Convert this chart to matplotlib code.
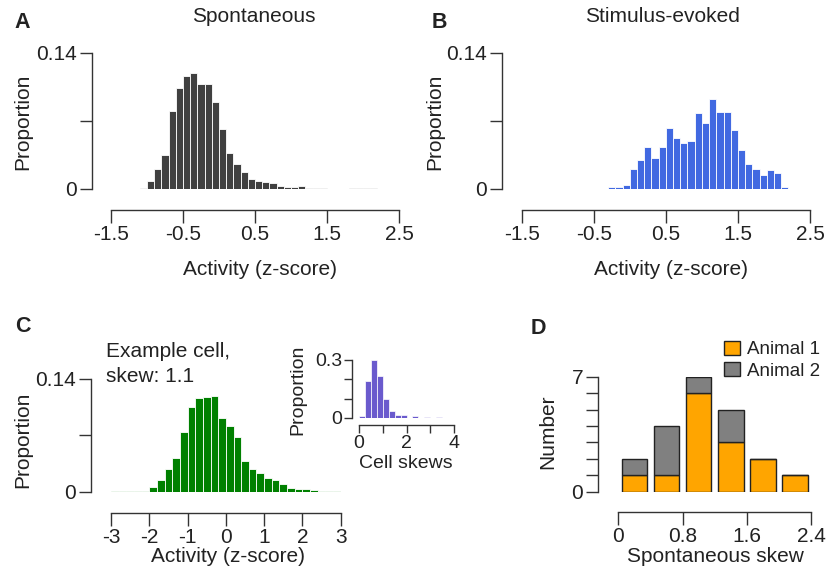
import numpy as np
import matplotlib
matplotlib.use("Agg")
import matplotlib.pyplot as plt
from matplotlib.patches import Patch

plt.rcParams['font.family'] = ['Liberation Sans', 'DejaVu Sans']

W, H = 831, 577

# ---------------- data ----------------
# Panel A: spontaneous activity histogram (bin width 0.1, -1.5 .. 2.5)
a_centers = np.round(np.arange(-1.45, 2.5, 0.1), 2)
a_values = [0.0003, 0.0003, 0.0003, 0.0003, 0.0014,
            0.008, 0.021, 0.0355, 0.080, 0.104,
            0.116, 0.1197, 0.108, 0.108, 0.0897,
            0.062, 0.0372, 0.026, 0.0172, 0.0103,
            0.0081, 0.0068, 0.0064, 0.0034, 0.0025,
            0.0024, 0.0027, 0.001, 0.001, 0.001,
            0.0004, 0.0004, 0.0004, 0.0006, 0.0006,
            0.0006, 0.0006, 0.0004, 0.0003, 0.0003]

# Panel B: stimulus-evoked activity histogram
b_centers = a_centers
b_values = [0.0002] * 12 + [
            0.0017, 0.0017, 0.0041, 0.0203, 0.030,
            0.0428, 0.0314, 0.0428, 0.0628, 0.0524,
            0.0476, 0.0497, 0.078, 0.0676, 0.0924,
            0.0793, 0.0793, 0.0607, 0.0397, 0.0255,
            0.0205, 0.014, 0.0193, 0.016, 0.002,
            0.0002, 0.0002, 0.0002]

# Panel C: example cell (bin width 0.2, -3 .. 3)
c_centers = np.round(np.arange(-2.9, 3.0, 0.2), 2)
c_values = [0.0003, 0.0012, 0.0012, 0.0012, 0.0012,
            0.0058, 0.014, 0.0276, 0.0421, 0.0746,
            0.1053, 0.1168, 0.1176, 0.1188, 0.0914,
            0.081, 0.0675, 0.0378, 0.0286, 0.0228,
            0.0164, 0.014, 0.0091, 0.0041, 0.0035,
            0.003, 0.0017, 0.0013, 0.0013, 0.0013]

# Panel C inset: cell skews (bin width 0.25, 0 .. 4)
inset_centers = np.arange(0.125, 4.0, 0.25)
inset_values = [0.012, 0.19, 0.30, 0.216, 0.10, 0.038, 0.017, 0.014,
                0.0, 0.008, 0.0, 0.006, 0.0, 0.006, 0.0, 0.0]

# Panel D: spontaneous skew counts per animal
d_centers = [0.2, 0.6, 1.0, 1.4, 1.8, 2.2]
d_animal1 = [1, 1, 6, 3, 2, 1]
d_animal2 = [1, 3, 1, 2, 0, 0]

# ---------------- style ----------------
SPINE = '#333333'
TXT = '#222222'
FS = 15


def px_axes(fig, left, top, right, bottom):
    return fig.add_axes([left / W, 1 - bottom / H, (right - left) / W, (bottom - top) / H])


def style(ax, xb, yb, out_px=21, ticklen=9, fs=FS):
    for s in ['top', 'right']:
        ax.spines[s].set_visible(False)
    ax.spines['left'].set_bounds(*yb)
    ax.spines['bottom'].set_bounds(*xb)
    ax.spines['bottom'].set_position(('outward', out_px * 72 / 100))
    for s in ['left', 'bottom']:
        ax.spines[s].set_color(SPINE)
        ax.spines[s].set_linewidth(1.0)
    ax.tick_params(axis='both', direction='out', length=ticklen, width=1.0,
                   color=SPINE, labelsize=fs, labelcolor=TXT, pad=2)


def ftext(x, y, s, **kw):
    kw.setdefault('color', TXT)
    kw.setdefault('fontsize', FS)
    fig.text(x / W, 1 - y / H, s, **kw)


fig = plt.figure(figsize=(W / 100, H / 100), dpi=100)

# ---------- Panel A ----------
axA = px_axes(fig, 92, 53, 399, 189)
axA.bar(a_centers, a_values, width=0.1, color='#404040', edgecolor='white', linewidth=0.6)
axA.set_xlim(-1.5 - 19 / 72, 2.5)
axA.set_ylim(0, 0.14)
style(axA, (-1.5, 2.5), (0, 0.14))
axA.set_xticks([-1.5, -0.5, 0.5, 1.5, 2.5])
axA.set_xticklabels(['-1.5', '-0.5', '0.5', '1.5', '2.5'])
axA.set_yticks([0, 0.07, 0.14])
axA.set_yticklabels(['0', '', '0.14'])
ftext(254, 16, 'Spontaneous', ha='center', va='center')
ftext(14, 22, 'A', ha='left', va='center', fontweight='bold', fontsize=15.5)
ftext(23, 122, 'Proportion', ha='center', va='center', rotation=90)
ftext(260, 269, 'Activity (z-score)', ha='center', va='center')

# ---------- Panel B ----------
axB = px_axes(fig, 502, 53, 810, 189)
axB.bar(b_centers, b_values, width=0.1, color='#4169E1', edgecolor='white', linewidth=0.6)
axB.set_xlim(-1.5 - 19.7 / 72, 2.5)
axB.set_ylim(0, 0.14)
style(axB, (-1.5, 2.5), (0, 0.14))
axB.set_xticks([-1.5, -0.5, 0.5, 1.5, 2.5])
axB.set_xticklabels(['-1.5', '-0.5', '0.5', '1.5', '2.5'])
axB.set_yticks([0, 0.07, 0.14])
axB.set_yticklabels(['0', '', '0.14'])
ftext(662, 16, 'Stimulus-evoked', ha='center', va='center')
ftext(432, 22, 'B', ha='left', va='center', fontweight='bold', fontsize=15.5)
ftext(435, 122, 'Proportion', ha='center', va='center', rotation=90)
ftext(671, 269, 'Activity (z-score)', ha='center', va='center')

# ---------- Panel C ----------
axC = px_axes(fig, 90.7, 379, 340.7, 491.7)
axC.bar(c_centers, c_values, width=0.2, color='#008000', edgecolor='white', linewidth=0.6)
axC.set_xlim(-3 - 20.3 / 38.3, 3)
axC.set_ylim(0, 0.14)
style(axC, (-3, 3), (0, 0.14))
axC.set_xticks([-3, -2, -1, 0, 1, 2, 3])
axC.set_xticklabels(['-3', '-2', '-1', '0', '1', '2', '3'])
axC.set_yticks([0, 0.07, 0.14])
axC.set_yticklabels(['0', '', '0.14'])
ftext(15, 326, 'C', ha='left', va='center', fontweight='bold', fontsize=15.5)
ftext(23, 440, 'Proportion', ha='center', va='center', rotation=90)
ftext(228, 557, 'Activity (z-score)', ha='center', va='center')
ftext(106, 357, 'Example cell,', ha='left', va='baseline')
ftext(106, 382, 'skew: 1.1', ha='left', va='baseline')

# inset
axI = px_axes(fig, 351.7, 360, 454.3, 418)
axI.bar(inset_centers, inset_values, width=0.25, color='#6A5ACD', edgecolor='white', linewidth=0.5)
axI.set_xlim(-7 / 23.9, 4)
axI.set_ylim(0, 0.3)
style(axI, (0, 4), (0, 0.3), out_px=7, ticklen=6, fs=14)
axI.set_xticks([0, 1, 2, 3, 4])
axI.set_xticklabels(['0', '', '2', '', '4'])
axI.set_yticks([0, 0.1, 0.2, 0.3])
axI.set_yticklabels(['0', '', '', '0.3'])
axI.tick_params(axis='both', pad=1)
ftext(298, 390, 'Proportion', ha='center', va='center', rotation=90, fontsize=14)
ftext(406, 463, 'Cell skews', ha='center', va='center', fontsize=14)

# ---------- Panel D ----------
axD = px_axes(fig, 598.3, 376.7, 811, 491.7)
axD.bar(d_centers, d_animal1, width=0.32, color='#FFA500', edgecolor='#222222',
        linewidth=1.0, label='Animal 1')
axD.bar(d_centers, d_animal2, width=0.32, bottom=d_animal1, color='#808080',
        edgecolor='#222222', linewidth=1.0, label='Animal 2')
axD.set_xlim(-20 / 80.3, 2.4)
axD.set_ylim(0, 7)
style(axD, (0, 2.4), (0, 7), out_px=20)
axD.set_xticks([0, 0.8, 1.6, 2.4])
axD.set_xticklabels(['0', '0.8', '1.6', '2.4'])
axD.set_yticks(range(8))
axD.set_yticklabels(['0', '', '', '', '', '', '', '7'])
ftext(531, 328, 'D', ha='left', va='center', fontweight='bold', fontsize=15.5)
ftext(548, 432, 'Number', ha='center', va='center', rotation=90)
ftext(715, 557, 'Spontaneous skew', ha='center', va='center')
handles = [Patch(facecolor='#FFA500', edgecolor='#222222', label='Animal 1'),
           Patch(facecolor='#808080', edgecolor='#222222', label='Animal 2')]
fig.legend(handles=handles, loc='upper left', bbox_to_anchor=(724 / W, 1 - 341 / H),
           frameon=False, fontsize=13.5, handlelength=0.85, handleheight=0.75,
           handletextpad=0.4, labelspacing=0.2, borderpad=0, borderaxespad=0,
           labelcolor=TXT)

fig.savefig('out.png', dpi=100)
